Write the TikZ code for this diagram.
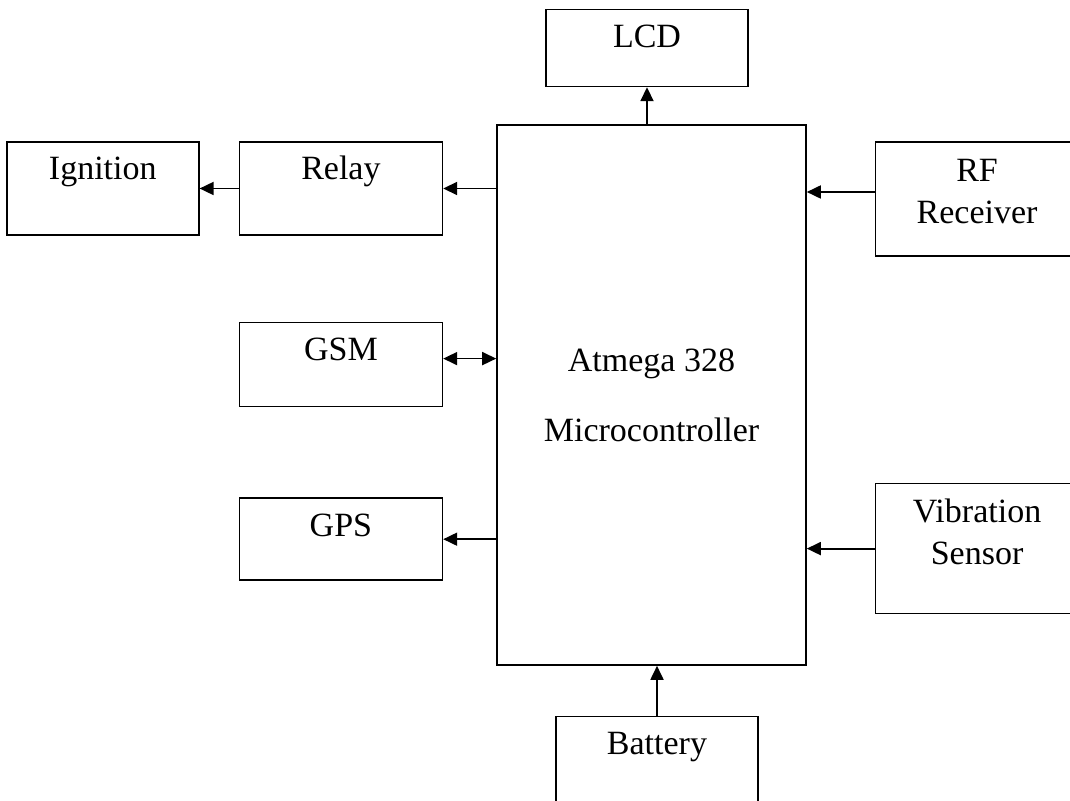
\documentclass[tikz,border=0pt]{standalone}
\usepackage{fontspec}
\setmainfont{Liberation Serif}
\usetikzlibrary{arrows.meta,positioning}

\begin{document}
\begin{tikzpicture}[
  x=0.5pt, y=-0.5pt,
  font=\fontsize{17}{21}\selectfont,
  blk/.style ={draw,line width=0.8pt,inner sep=0pt,align=center,
               text height=19pt},
  mcu/.style ={draw,line width=0.8pt,align=center,
               minimum width=154.5pt,minimum height=270pt},
  lnk/.style ={line width=0.9pt},
  >={Triangle[length=7pt,width=6.5pt]}]

\useasboundingbox (0,0) rectangle (1070,801);
\clip (0,0) rectangle (1070,801);

% ---------- centre : controller ----------
\node[mcu] (mcu) at (651.5,395) {Atmega 328\\[14pt]Microcontroller};

% ---------- top and bottom ----------
\node[blk, above=18.5pt of mcu, xshift=-2.25pt, minimum width=101pt, text depth=19.5pt] (lcd) {LCD};
\node[blk, below=25pt of mcu, xshift=2.75pt, minimum width=101pt, text depth=27.5pt] (batt) {Battery};

% ---------- left column ----------
\node[blk, left=26.5pt of mcu.north west, anchor=north east, yshift=-8.5pt,
      minimum width=101.5pt, text depth=27.5pt] (relay) {Relay};
\node[blk, left=19.5pt of relay, minimum width=96pt, text depth=27.5pt] (ign) {Ignition};
\node[blk, below=43pt of relay, minimum width=101.5pt, text depth=23pt] (gsm) {GSM};
\node[blk, below=45pt of gsm, minimum width=101.5pt, text depth=22pt] (gps) {GPS};

% ---------- right column ----------
\node[blk, right=34pt of mcu.north east, anchor=north west, yshift=-8.5pt,
      minimum width=101.5pt, text height=41pt, text depth=16pt] (rf) {RF\\Receiver};
\node[blk, below=113pt of rf.south west, anchor=north west,
      minimum width=101.5pt, text height=40.5pt, text depth=24.5pt] (vib) {Vibration\\Sensor};

% ---------- connectors ----------
\draw[lnk,->] (lcd.south |- mcu.north) -- (lcd.south);
\draw[lnk,->] (batt.north) -- (batt.north |- mcu.south);
\draw[lnk,->] (relay.east -| mcu.west) -- (relay.east);
\draw[lnk,->] (relay.west) -- (ign.east);
\draw[lnk,<->] ([yshift=3pt]gsm.east) -- ([yshift=3pt]gsm.east -| mcu.west);
\draw[lnk,->] (gps.east -| mcu.west) -- (gps.east);
\draw[lnk,->] ([yshift=3.5pt]rf.west) -- ([yshift=3.5pt]rf.west -| mcu.east);
\draw[lnk,->] (vib.west) -- (vib.west -| mcu.east);

\end{tikzpicture}
\end{document}
